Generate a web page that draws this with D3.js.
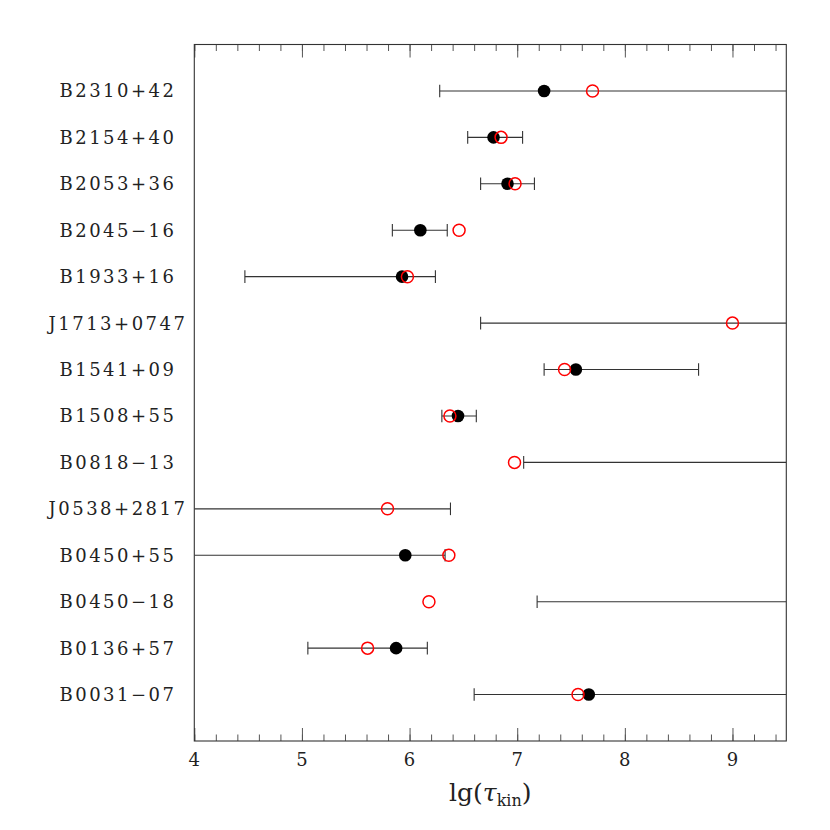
<!DOCTYPE html>
<html>
<head>
<meta charset="utf-8">
<script src="https://cdn.jsdelivr.net/npm/d3@7"></script>
<style>
  body { margin: 0; background: #fff; }
  text { font-family: "DejaVu Serif", "Liberation Serif", serif; fill: #222; }
</style>
</head>
<body>
<div id="chart"></div>
<script>
// pulsar names, top to bottom
const pulsars = [
  "B2310+42", "B2154+40", "B2053+36", "B2045\u221216", "B1933+16",
  "J1713+0747", "B1541+09", "B1508+55", "B0818\u221213", "J0538+2817",
  "B0450+55", "B0450\u221218", "B0136+57", "B0031\u221207"
];
// kinematic age range (lg yr); null = open ended
const rangeLo = [6.28, 6.54, 6.66, 5.84, 4.47, 6.66, 7.25, 6.30, 7.06, null, null, 7.185, 5.055, 6.60];
const rangeHi = [null, 7.05, 7.16, 6.35, 6.24, null, 8.685, 6.62, null, 6.38, 6.33, null, 6.165, null];
// best estimate (filled black), null = none
const bestAge = [7.25, 6.78, 6.91, 6.10, 5.93, null, 7.545, 6.45, null, null, 5.96, null, 5.875, 7.665];
// comparison age (open red circles)
const otherAge = [7.70, 6.85, 6.98, 6.46, 5.98, 9.00, 7.44, 6.375, 6.975, 5.795, 6.365, 6.18, 5.61, 7.565];
const xTicks = [4, 5, 6, 7, 8, 9];

const W = 830, H = 830;
const margin = { top: 44.5, right: 43.7, bottom: 89, left: 194.3 };

const svg = d3.select("#chart").append("svg")
    .attr("width", W)
    .attr("height", H);

const x = d3.scaleLinear()
    .domain([4, 9.5])
    .range([margin.left, W - margin.right]);

const y = d3.scalePoint()
    .domain(pulsars)
    .range([margin.top, H - margin.bottom])
    .padding(1);

const rows = pulsars.map((name, i) => ({
    name: name,
    lo: rangeLo[i],
    hi: rangeHi[i],
    best: bestAge[i],
    other: otherAge[i]
}));

svg.append("defs").append("clipPath").attr("id", "plotclip")
  .append("rect")
    .attr("x", x.range()[0])
    .attr("y", margin.top)
    .attr("width", x.range()[1] - x.range()[0])
    .attr("height", H - margin.bottom - margin.top);

// ticks: bottom and top, pointing inwards
const minorTicks = d3.range(4, 9.5001, 0.2).map(v => +v.toFixed(1));
const bottomAxis = svg.append("g")
    .attr("transform", `translate(0,${H - margin.bottom})`)
    .call(d3.axisTop(x).tickValues(minorTicks).tickSize(6.5).tickFormat(""));
bottomAxis.append("g")
    .call(d3.axisTop(x).tickValues(xTicks).tickSize(13).tickFormat(""));
const topAxis = svg.append("g")
    .attr("transform", `translate(0,${margin.top})`)
    .call(d3.axisBottom(x).tickValues(minorTicks).tickSize(6.5).tickFormat(""));
topAxis.append("g")
    .call(d3.axisBottom(x).tickValues(xTicks).tickSize(13).tickFormat(""));
svg.selectAll(".domain").remove();
svg.selectAll(".tick line").attr("stroke", "#555").attr("stroke-width", 1);

// frame
svg.append("rect")
    .attr("x", x.range()[0])
    .attr("y", margin.top)
    .attr("width", x.range()[1] - x.range()[0])
    .attr("height", H - margin.bottom - margin.top)
    .attr("fill", "none")
    .attr("stroke", "#333")
    .attr("stroke-width", 1.1);

// tick labels
svg.selectAll(".xlab")
  .data(xTicks)
  .enter().append("text")
    .attr("x", d => x(d))
    .attr("y", H - margin.bottom + 25)
    .attr("text-anchor", "middle")
    .style("font-size", "18px")
    .text(d => d);

// axis title
const title = svg.append("text")
    .attr("x", (x.range()[0] + x.range()[1]) / 2)
    .attr("y", 801)
    .attr("text-anchor", "middle")
    .style("font-size", "25px");
title.append("tspan").text("lg(");
title.append("tspan").style("font-style", "italic").text("\u03c4");
title.append("tspan").attr("dy", 5).style("font-size", "16px").text("kin");
title.append("tspan").attr("dy", -5).text(")");

// row labels
svg.selectAll(".ylab")
  .data(rows)
  .enter().append("text")
    .attr("x", 118)
    .attr("y", d => y(d.name))
    .attr("dy", "0.36em")
    .attr("text-anchor", "middle")
    .style("font-size", "18px")
    .style("letter-spacing", "2.5px")
    .text(d => d.name);

const plot = svg.append("g").attr("clip-path", "url(#plotclip)");

// error bars
const bars = plot.selectAll(".bar")
  .data(rows)
  .enter().append("g")
    .attr("class", "bar");

bars.append("line")
    .attr("x1", d => d.lo === null ? x.range()[0] : x(d.lo))
    .attr("x2", d => d.hi === null ? x.range()[1] : x(d.hi))
    .attr("y1", d => y(d.name))
    .attr("y2", d => y(d.name))
    .attr("stroke", "#333")
    .attr("stroke-width", 1.1);

bars.filter(d => d.lo !== null).append("line")
    .attr("x1", d => x(d.lo)).attr("x2", d => x(d.lo))
    .attr("y1", d => y(d.name) - 6.3).attr("y2", d => y(d.name) + 6.3)
    .attr("stroke", "#333").attr("stroke-width", 1.1);

bars.filter(d => d.hi !== null).append("line")
    .attr("x1", d => x(d.hi)).attr("x2", d => x(d.hi))
    .attr("y1", d => y(d.name) - 6.3).attr("y2", d => y(d.name) + 6.3)
    .attr("stroke", "#333").attr("stroke-width", 1.1);

// best estimates
plot.selectAll(".best")
  .data(rows.filter(d => d.best !== null))
  .enter().append("circle")
    .attr("cx", d => x(d.best))
    .attr("cy", d => y(d.name))
    .attr("r", 6.3)
    .attr("fill", "#000");

// comparison ages
plot.selectAll(".other")
  .data(rows)
  .enter().append("circle")
    .attr("cx", d => x(d.other))
    .attr("cy", d => y(d.name))
    .attr("r", 6)
    .attr("fill", "none")
    .attr("stroke", "#f00")
    .attr("stroke-width", 1.5);
</script>
</body>
</html>
